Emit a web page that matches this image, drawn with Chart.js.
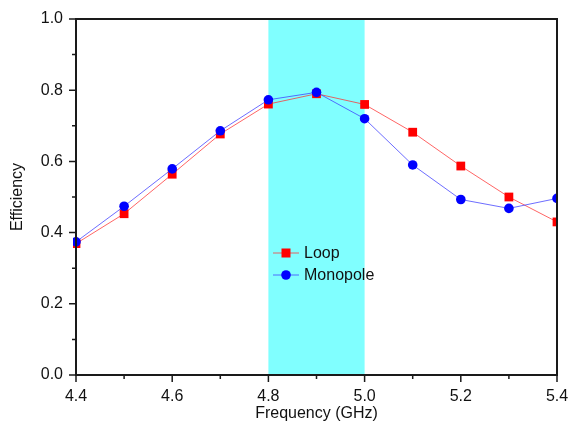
<!DOCTYPE html>
<html>
<head>
<meta charset="utf-8">
<script src="https://cdn.jsdelivr.net/npm/chart.js@4.4.1/dist/chart.umd.min.js"></script>
<style>
  html, body { margin: 0; padding: 0; background: #ffffff; }
  #wrap { width: 570px; height: 423px; position: relative; }
</style>
</head>
<body>
<div id="wrap"><canvas id="chart" width="570" height="423"></canvas></div>
<script>
// frequency sweep (GHz)
const FREQ = [4.4, 4.5, 4.6, 4.7, 4.8, 4.9, 5.0, 5.1, 5.2, 5.3, 5.4];
const LOOP = [0.369, 0.453, 0.564, 0.677, 0.761, 0.790, 0.760, 0.682, 0.587, 0.500, 0.430];
const MONOPOLE = [0.374, 0.474, 0.579, 0.686, 0.773, 0.794, 0.720, 0.590, 0.493, 0.468, 0.496];

// shaded operating band
const BAND = [4.8, 5.0];

// axis ticks
const X_TICKS = [4.4, 4.6, 4.8, 5.0, 5.2, 5.4];
const X_MINOR = [4.5, 4.7, 4.9, 5.1, 5.3];
const Y_TICKS = [0.0, 0.2, 0.4, 0.6, 0.8, 1.0];
const Y_MINOR = [0.1, 0.3, 0.5, 0.7, 0.9];

const FONT = 'Arial, "Liberation Sans", sans-serif';
const AXIS_COLOR = '#1a1a1a';

// band behind the curves
const bandPlugin = {
  id: 'band',
  beforeDatasetsDraw(chart) {
    const { ctx, chartArea: { top, bottom }, scales: { x } } = chart;
    const x0 = x.getPixelForValue(BAND[0]);
    const x1 = x.getPixelForValue(BAND[1]);
    ctx.save();
    ctx.fillStyle = '#80ffff';
    ctx.fillRect(x0, top, x1 - x0, bottom - top);
    ctx.restore();
  }
};

// frame, outward ticks, in-plot legend
const framePlugin = {
  id: 'frame',
  afterDatasetsDraw(chart) {
    const { ctx, chartArea: { left, right, top, bottom }, scales: { x, y } } = chart;
    ctx.save();
    ctx.strokeStyle = AXIS_COLOR;
    ctx.lineWidth = 2;
    ctx.strokeRect(left, top, right - left, bottom - top);

    ctx.lineWidth = 1.5;
    ctx.beginPath();
    X_TICKS.forEach(v => { const p = x.getPixelForValue(v); ctx.moveTo(p, bottom); ctx.lineTo(p, bottom + 7); });
    X_MINOR.forEach(v => { const p = x.getPixelForValue(v); ctx.moveTo(p, bottom); ctx.lineTo(p, bottom + 4); });
    Y_TICKS.forEach(v => { const p = y.getPixelForValue(v); ctx.moveTo(left, p); ctx.lineTo(left - 7, p); });
    Y_MINOR.forEach(v => { const p = y.getPixelForValue(v); ctx.moveTo(left, p); ctx.lineTo(left - 4, p); });
    ctx.stroke();

    // legend
    const lx = left + 197;
    let ly = top + 234;
    ctx.font = '16px ' + FONT;
    ctx.textBaseline = 'middle';
    ctx.textAlign = 'left';
    chart.data.datasets.slice().reverse().forEach(ds => {
      ctx.strokeStyle = ds.borderColor;
      ctx.lineWidth = 1;
      ctx.beginPath();
      ctx.moveTo(lx, ly);
      ctx.lineTo(lx + 26, ly);
      ctx.stroke();
      ctx.fillStyle = ds.pointBackgroundColor;
      if (ds.pointStyle === 'rect') {
        ctx.fillRect(lx + 13 - 4.5, ly - 4.5, 9, 9);
      } else {
        ctx.beginPath();
        ctx.arc(lx + 13, ly, 4.8, 0, Math.PI * 2);
        ctx.fill();
      }
      ctx.fillStyle = '#111111';
      ctx.fillText(ds.label, lx + 31, ly + 1);
      ly += 22;
    });
    ctx.restore();
  }
};

new Chart(document.getElementById('chart'), {
  type: 'line',
  data: {
    datasets: [
      {
        label: 'Monopole',
        data: FREQ.map((f, i) => ({ x: f, y: MONOPOLE[i] })),
        borderColor: 'rgba(60, 60, 255, 0.75)',
        borderWidth: 1,
        pointStyle: 'circle',
        pointRadius: 4.8,
        pointBackgroundColor: '#0000ff',
        pointBorderWidth: 0,
        tension: 0,
        order: 1,
        clip: { left: 3, top: 10, right: 0, bottom: 10 }
      },
      {
        label: 'Loop',
        data: FREQ.map((f, i) => ({ x: f, y: LOOP[i] })),
        borderColor: 'rgba(255, 50, 50, 0.75)',
        borderWidth: 1,
        pointStyle: 'rect',
        pointRadius: 6.2,
        pointBackgroundColor: '#ff0000',
        pointBorderWidth: 0,
        tension: 0,
        order: 2,
        clip: { left: 3, top: 10, right: 0, bottom: 10 }
      }
    ]
  },
  plugins: [bandPlugin, framePlugin],
  options: {
    responsive: false,
    animation: false,
    events: [],
    layout: { padding: { top: 19, right: 13, left: 0, bottom: 0 } },
    plugins: {
      legend: { display: false },
      tooltip: { enabled: false }
    },
    scales: {
      x: {
        type: 'linear',
        min: 4.4,
        max: 5.4,
        afterBuildTicks: s => { s.ticks = X_TICKS.map(v => ({ value: v })); },
        afterFit: s => { s.height = 48; s.paddingLeft = 0; s.paddingRight = 0; },
        grid: { display: false, drawTicks: false },
        border: { display: false },
        ticks: {
          padding: 12,
          color: '#111111',
          font: { family: FONT, size: 16 },
          maxRotation: 0,
          callback: v => v.toFixed(1)
        },
        title: {
          display: true,
          text: 'Frequency (GHz)',
          color: '#111111',
          font: { family: FONT, size: 16 },
          padding: { top: 2, bottom: 0 }
        }
      },
      y: {
        type: 'linear',
        min: 0,
        max: 1,
        afterBuildTicks: s => { s.ticks = Y_TICKS.map(v => ({ value: v })); },
        afterFit: s => { s.width = 76; s.paddingTop = 0; s.paddingBottom = 0; },
        grid: { display: false, drawTicks: false },
        border: { display: false },
        ticks: {
          padding: 13,
          color: '#111111',
          font: { family: FONT, size: 16 },
          callback: v => v.toFixed(1)
        },
        title: {
          display: true,
          text: 'Efficiency',
          color: '#111111',
          font: { family: FONT, size: 16 },
          padding: { top: 8, bottom: 0 }
        }
      }
    }
  }
});
</script>
</body>
</html>
